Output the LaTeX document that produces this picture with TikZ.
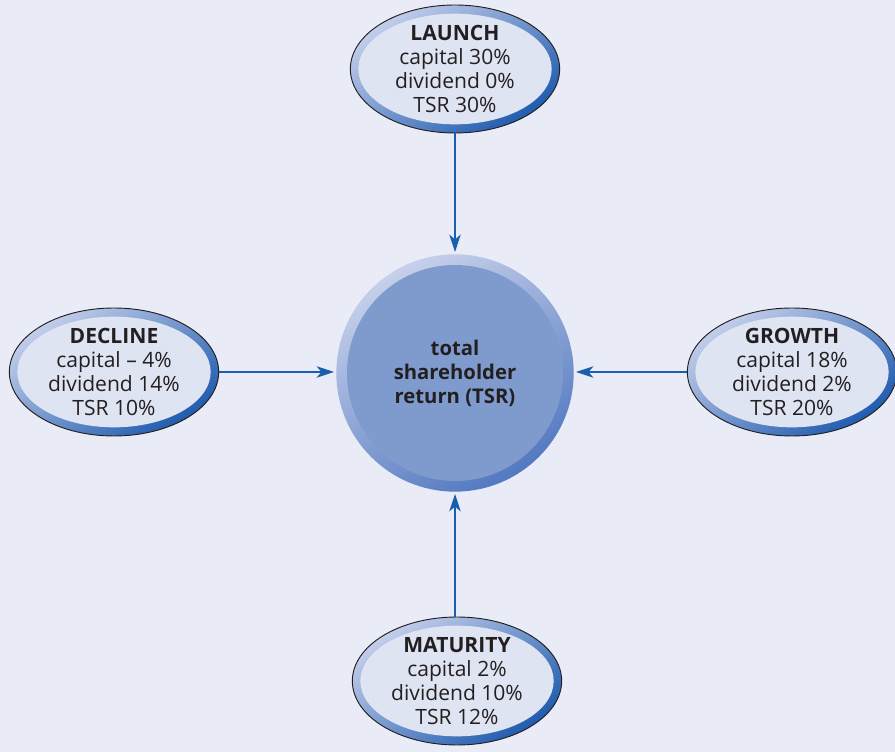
\documentclass[tikz,border=0pt]{standalone}
\usepackage{fontspec}
\setmainfont{Open Sans}
\usetikzlibrary{positioning,arrows.meta,shapes.geometric}
\definecolor{bgpanel}{HTML}{E9ECF7}
\definecolor{stagefill}{HTML}{DFE4F3}
\definecolor{ringlight}{HTML}{C3CEEA}
\definecolor{ringdark}{HTML}{1F5BAE}
\definecolor{hubfill}{HTML}{7F9BCE}
\definecolor{hublight}{HTML}{C6D0EA}
\definecolor{hubdark}{HTML}{5379C1}
\definecolor{flowblue}{HTML}{1A5FAF}
\definecolor{inktext}{HTML}{231F20}

\begin{document}
\begin{tikzpicture}[x=0.75pt, y=0.75pt,
  stage/.style={ellipse, draw=inktext, line width=0.7pt, inner sep=0pt,
                minimum width=157pt, minimum height=96pt,
                top color=ringlight, bottom color=ringdark, shading angle=35,
                path picture={\fill[stagefill] (path picture bounding box.center)
                  ellipse [x radius=72.5pt, y radius=41.5pt];},
                align=center, text=inktext, font=\fontsize{15.8}{18}\selectfont},
  hub/.style={circle, minimum size=178pt, inner sep=0pt,
              top color=hublight, bottom color=hubdark, shading angle=30,
              path picture={\fill[hubfill] (path picture bounding box.center)
                circle [radius=81pt];},
              align=center, text=inktext, font=\fontsize{15.2}{18}\selectfont\bfseries},
  flow/.style={-{Stealth[length=13pt, width=8.5pt, inset=3.5pt]}, draw=flowblue,
               line width=1.9pt, shorten >=1.5pt},
]
  \fill[bgpanel] (0,0) rectangle (895,752);
  \useasboundingbox (0,0) rectangle (895,752);

  \node[hub] (tsr) at (455,379) {total\\shareholder\\return (TSR)};

  \node[stage] (launch) at (455,683) {\textbf{LAUNCH}\\capital 30\%\\dividend 0\%\\TSR 30\%};
  \node[stage] (decline) at (114,380) {\textbf{DECLINE}\\capital -- 4\%\\dividend 14\%\\TSR 10\%};
  \node[stage] (growth) at (792,380) {\textbf{GROWTH}\\capital 18\%\\dividend 2\%\\TSR 20\%};
  \node[stage] (maturity) at (457,71) {\textbf{MATURITY}\\capital 2\%\\dividend 10\%\\TSR 12\%};

  \draw[flow] (launch) -- (tsr);
  \draw[flow] (decline.east) -- (decline.east -| tsr.west);
  \draw[flow] (growth.west) -- (growth.west -| tsr.east);
  \draw[flow] (tsr |- maturity.north) -- (tsr.south);
\end{tikzpicture}
\end{document}
